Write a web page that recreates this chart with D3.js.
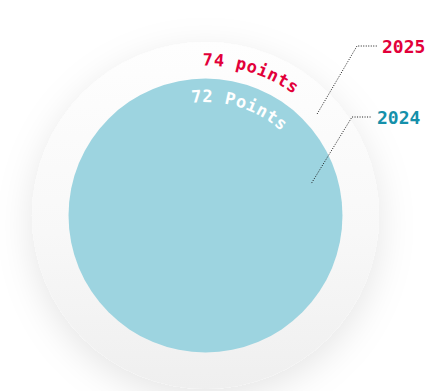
<!DOCTYPE html>
<html>
<head>
<meta charset="utf-8">
<script src="https://cdn.jsdelivr.net/npm/d3@7"></script>
<style>
  html, body { margin: 0; padding: 0; background: #fff; }
  svg { display: block; }
</style>
</head>
<body>
<svg id="chart" width="439" height="391"></svg>
<script>
// data
const years  = ['2025', '2024'];
const points = [74, 72];
const labels = ['74 points', '72 Points'];

const svg = d3.select('#chart');
const cx = 205.5, cy = 215.5;

// radius scale (circles are not area-proportional in the original)
const r = d3.scaleLinear().domain([64.5, 74]).range([0, 173.5]);

const colours = { '2025': '#e2003a', '2024': '#1590aa' };
const mono = '"DejaVu Sans Mono", "Liberation Mono", monospace';

const defs = svg.append('defs');

const shadow = defs.append('filter').attr('id', 'halo')
  .attr('x', '-40%').attr('y', '-40%').attr('width', '180%').attr('height', '180%');
shadow.append('feDropShadow')
  .attr('dx', 0).attr('dy', 10).attr('stdDeviation', 18)
  .attr('flood-color', '#000').attr('flood-opacity', 0.1);

const grad = defs.append('linearGradient').attr('id', 'outerFill')
  .attr('x1', 0).attr('y1', 0).attr('x2', 0).attr('y2', 1);
grad.append('stop').attr('offset', '0%').attr('stop-color', '#fefefe');
grad.append('stop').attr('offset', '55%').attr('stop-color', '#f8f8f8');
grad.append('stop').attr('offset', '100%').attr('stop-color', '#efefef');

const g = svg.append('g').attr('transform', `translate(${cx},${cy})`);

// circles, biggest first
const rows = years.map((y, i) => ({ year: y, value: points[i], label: labels[i] }));

g.selectAll('circle.bubble')
  .data(rows)
  .join('circle')
  .attr('class', 'bubble')
  .attr('r', d => r(d.value))
  .attr('fill', (d, i) => i === 0 ? 'url(#outerFill)' : '#9dd4e0')
  .attr('filter', (d, i) => i === 0 ? 'url(#halo)' : null);

// curved value labels - path starts at 9 o'clock, runs clockwise over the top
const textR = d => r(d.value) - 23.5;
g.selectAll('path.arc')
  .data(rows)
  .join('path')
  .attr('class', 'arc')
  .attr('id', (d, i) => 'arc' + i)
  .attr('fill', 'none')
  .attr('d', d => {
    const rr = textR(d);
    return `M${-rr},0 A${rr},${rr} 0 1 1 ${rr},0 A${rr},${rr} 0 1 1 ${-rr},0`;
  });

const midAngle = 17.5 * Math.PI / 180;
g.selectAll('text.val')
  .data(rows)
  .join('text')
  .attr('class', 'val')
  .attr('font-family', mono)
  .attr('font-weight', 'bold')
  .attr('font-size', 17)
  .attr('letter-spacing', 0.6)
  .attr('fill', (d, i) => i === 0 ? colours[d.year] : '#fff')
  .append('textPath')
  .attr('href', (d, i) => '#arc' + i)
  .attr('text-anchor', 'middle')
  .attr('startOffset', d => textR(d) * (Math.PI / 2 + midAngle))
  .text(d => d.label);

// leader lines + year labels
const anchors = [
  { ang: 47.7, frac: 0.87, elbow: [357, 46], end: 377 },
  { ang: 73,   frac: 0.81, elbow: [352, 117], end: 372 }
];
rows.forEach((d, i) => {
  const a = anchors[i];
  const rad = a.ang * Math.PI / 180;
  const rr = r(d.value) * a.frac;
  const x0 = cx + rr * Math.sin(rad), y0 = cy - rr * Math.cos(rad);
  svg.append('polyline')
    .attr('points', `${x0},${y0} ${a.elbow[0]},${a.elbow[1]} ${a.end},${a.elbow[1]}`)
    .attr('fill', 'none')
    .attr('stroke', '#1a1a1a')
    .attr('stroke-width', 1)
    .attr('stroke-dasharray', '1,1.5');
  svg.append('text')
    .attr('x', a.end + 5)
    .attr('y', a.elbow[1] + 7)
    .attr('font-family', mono)
    .attr('font-weight', 'bold')
    .attr('font-size', 18)
    .attr('fill', colours[d.year])
    .text(d.year);
});
</script>
</body>
</html>
